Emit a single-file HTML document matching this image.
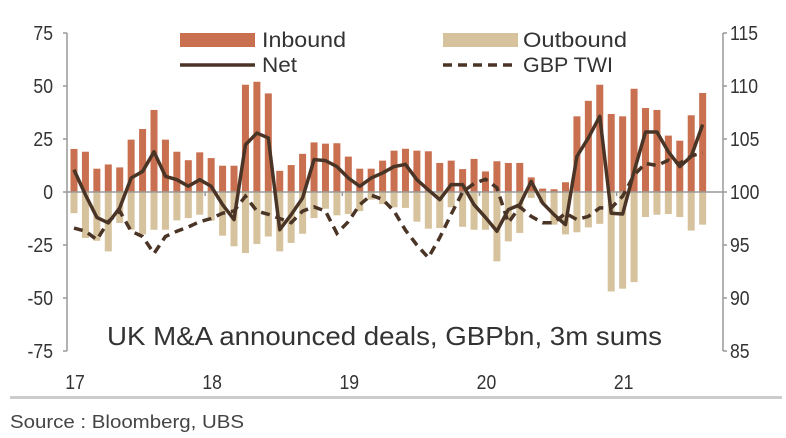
<!DOCTYPE html>
<html><head><meta charset="utf-8"><style>
html,body{margin:0;padding:0;background:#fff;}
svg{display:block;font-family:"Liberation Sans",sans-serif;}
</style></head><body>
<svg id="chart" width="786" height="438" viewBox="0 0 786 438">
  <rect x="180" y="33" width="75" height="14" fill="#c8704f"/>
  <text x="262" y="47" font-size="21" fill="#333" textLength="84" lengthAdjust="spacingAndGlyphs">Inbound</text>
  <rect x="443" y="33" width="75" height="14" fill="#d6c29c"/>
  <text x="523" y="47" font-size="21" fill="#333" textLength="104" lengthAdjust="spacingAndGlyphs">Outbound</text>
  <line x1="180" y1="65" x2="255" y2="65" stroke="#4a3426" stroke-width="3.5"/>
  <text x="262" y="72" font-size="21" fill="#333" textLength="35" lengthAdjust="spacingAndGlyphs">Net</text>
  <line x1="443" y1="65" x2="518" y2="65" stroke="#4a3426" stroke-width="3.5" stroke-dasharray="9,6"/>
  <text x="523" y="72" font-size="21" fill="#333" textLength="90" lengthAdjust="spacingAndGlyphs">GBP TWI</text>
  <text x="107" y="345" font-size="26" fill="#333" textLength="555" lengthAdjust="spacingAndGlyphs">UK M&amp;A announced deals, GBPbn, 3m sums</text>
  <rect x="10" y="396" width="772" height="3" fill="#ccc"/>
  <text x="10" y="428" font-size="18" fill="#444" textLength="234" lengthAdjust="spacingAndGlyphs">Source : Bloomberg, UBS</text>
</svg>
<script>
const inbound=[20.3,19,11,13,11.6,24.7,29.7,38.7,24.7,19,15,18.7,16,12.4,12.4,50.6,52,46.5,10,12.7,18,23.4,22.8,23,16.7,11,11,14.8,
19.5,20.4,19.5,19.2,13.7,14.8,10.8,15.6,9.7,14.5,13.7,13.7,6.9,1.6,1.3,4.6,35.7,43,50.6,36.8,35.7,48.7,39.6,38.7,26.6,24.2,36.2,46.7];
const outbound=[-10,-21.7,-23,-28,-14.6,-17.8,-20,-17.8,-17.8,-13.4,-12.3,-10.7,-13.5,-20.6,-25.6,-28.8,-24.5,-21,-28,-24,-19.7,-12.3,-7.9,-11,-10.4,-9,-3.6,-5.7,
-7.2,-7.5,-14,-17.3,-17,-7.2,-16.4,-17.8,-17.8,-32.7,-23.3,-19.3,-2.8,-5.2,-15.4,-20,-19,-16.7,-15,-46.9,-45.6,-42.5,-11.8,-10.7,-10.4,-11.8,-18.2,-15.4];
const net=[10.5,-1.3,-12,-14.6,-7.5,6.6,9.7,19,7.4,5.8,2.7,5.8,2.7,-6,-13,22.3,27.8,25.5,-17.8,-10.7,-2.8,15.3,14.8,12,6.6,2.7,6.6,9,
12,13,5.8,1,-3.6,3.5,3.5,-6,-12,-18.5,-8.3,-6,5,-5.2,-10.7,-15.4,16.8,25.5,35.7,-10,-10.4,9.7,28.3,28.3,19,12,16.8,31.8];
const twi=[96.6,96.3,95.5,97.2,98.2,96.3,95.8,94.2,95.8,96.3,96.7,97.2,97.5,98,98.2,99.6,98.2,97.9,97.5,97.1,98.2,98.6,98.2,96.1,97.2,98.8,99.7,99.3,
98.2,96.4,95,93.8,95.7,97.9,100,100.8,101.2,100.4,97.1,98.6,97.7,97.1,97.1,98,97.4,97.7,98.5,98.5,99.6,101.6,102.7,102.5,103,102.7,103.4,103.7];
const leftTicks=[75,50,25,0,-25,-50,-75];
const rightTicks=[115,110,105,100,95,90,85];
const yearLabels=["17","18","19","20","21"];

const NS="http://www.w3.org/2000/svg";
const svg=document.getElementById('chart');
function el(t,a,p){const e=document.createElementNS(NS,t);for(const k in a)e.setAttribute(k,a[k]);(p||svg).appendChild(e);return e;}
const X0=67,X1=723,Y0=33,Y1=351;
const yL=v=>Y1-(v+75)/150*(Y1-Y0);
const yR=v=>Y1-(v-85)/30*(Y1-Y0);
const step=11.43;
const xB=i=>74+i*step;
const bw=7;

let a=el('line',{x1:X0,y1:Y0,x2:X0,y2:Y1,stroke:'#999','stroke-width':1.5});

a=el('line',{x1:X1,y1:Y0,x2:X1,y2:Y1,stroke:'#999','stroke-width':1.5});

leftTicks.forEach(v=>{
  el('line',{x1:X0-4,y1:yL(v),x2:X0,y2:yL(v),stroke:'#999','stroke-width':1.5});
  const t=el('text',{x:53,y:yL(v)+7,'text-anchor':'end','font-size':20,fill:'#333',transform:'translate(53,0) scale(0.88,1) translate(-53,0)'});t.textContent=v;
  
});
rightTicks.forEach(v=>{
  el('line',{x1:X1,y1:yR(v),x2:X1+4,y2:yR(v),stroke:'#999','stroke-width':1.5});
  const t=el('text',{x:730,y:yR(v)+7,'font-size':20,fill:'#333',transform:'translate(730,0) scale(0.88,1) translate(-730,0)'});t.textContent=v;
  
});
inbound.forEach((v,i)=>{
  const r=el('rect',{x:xB(i)-bw/2,y:yL(v),width:bw,height:yL(0)-yL(v),fill:'#c8704f'});
  
});
outbound.forEach((v,i)=>{
  const r=el('rect',{x:xB(i)-bw/2,y:yL(0),width:bw,height:yL(v)-yL(0),fill:'#d6c29c'});
  
});
a=el('line',{x1:X0,y1:yL(0),x2:X1,y2:yL(0),stroke:'#999','stroke-width':1.5});

yearLabels.forEach((l,k)=>{
  const x=xB(12*k)-6;
  if(k>0) el('line',{x1:x,y1:yL(0),x2:x,y2:yL(0)+4,stroke:'#999','stroke-width':1.5});
  const cx=xB(12*k)+1;
  const t=el('text',{x:cx,y:389,'text-anchor':'middle','font-size':20,fill:'#333',transform:`translate(${cx},0) scale(0.88,1) translate(${-cx},0)`});t.textContent=l;
  
});
let p=el('polyline',{points:twi.map((v,i)=>xB(i)+','+yR(v)).join(' '),fill:'none',stroke:'#4a3426','stroke-width':3.5,'stroke-dasharray':'9,6'});

p=el('polyline',{points:net.map((v,i)=>xB(i)+','+yL(v)).join(' '),fill:'none',stroke:'#4a3426','stroke-width':3.5,'stroke-linejoin':'round'});

</script>
</body></html>
